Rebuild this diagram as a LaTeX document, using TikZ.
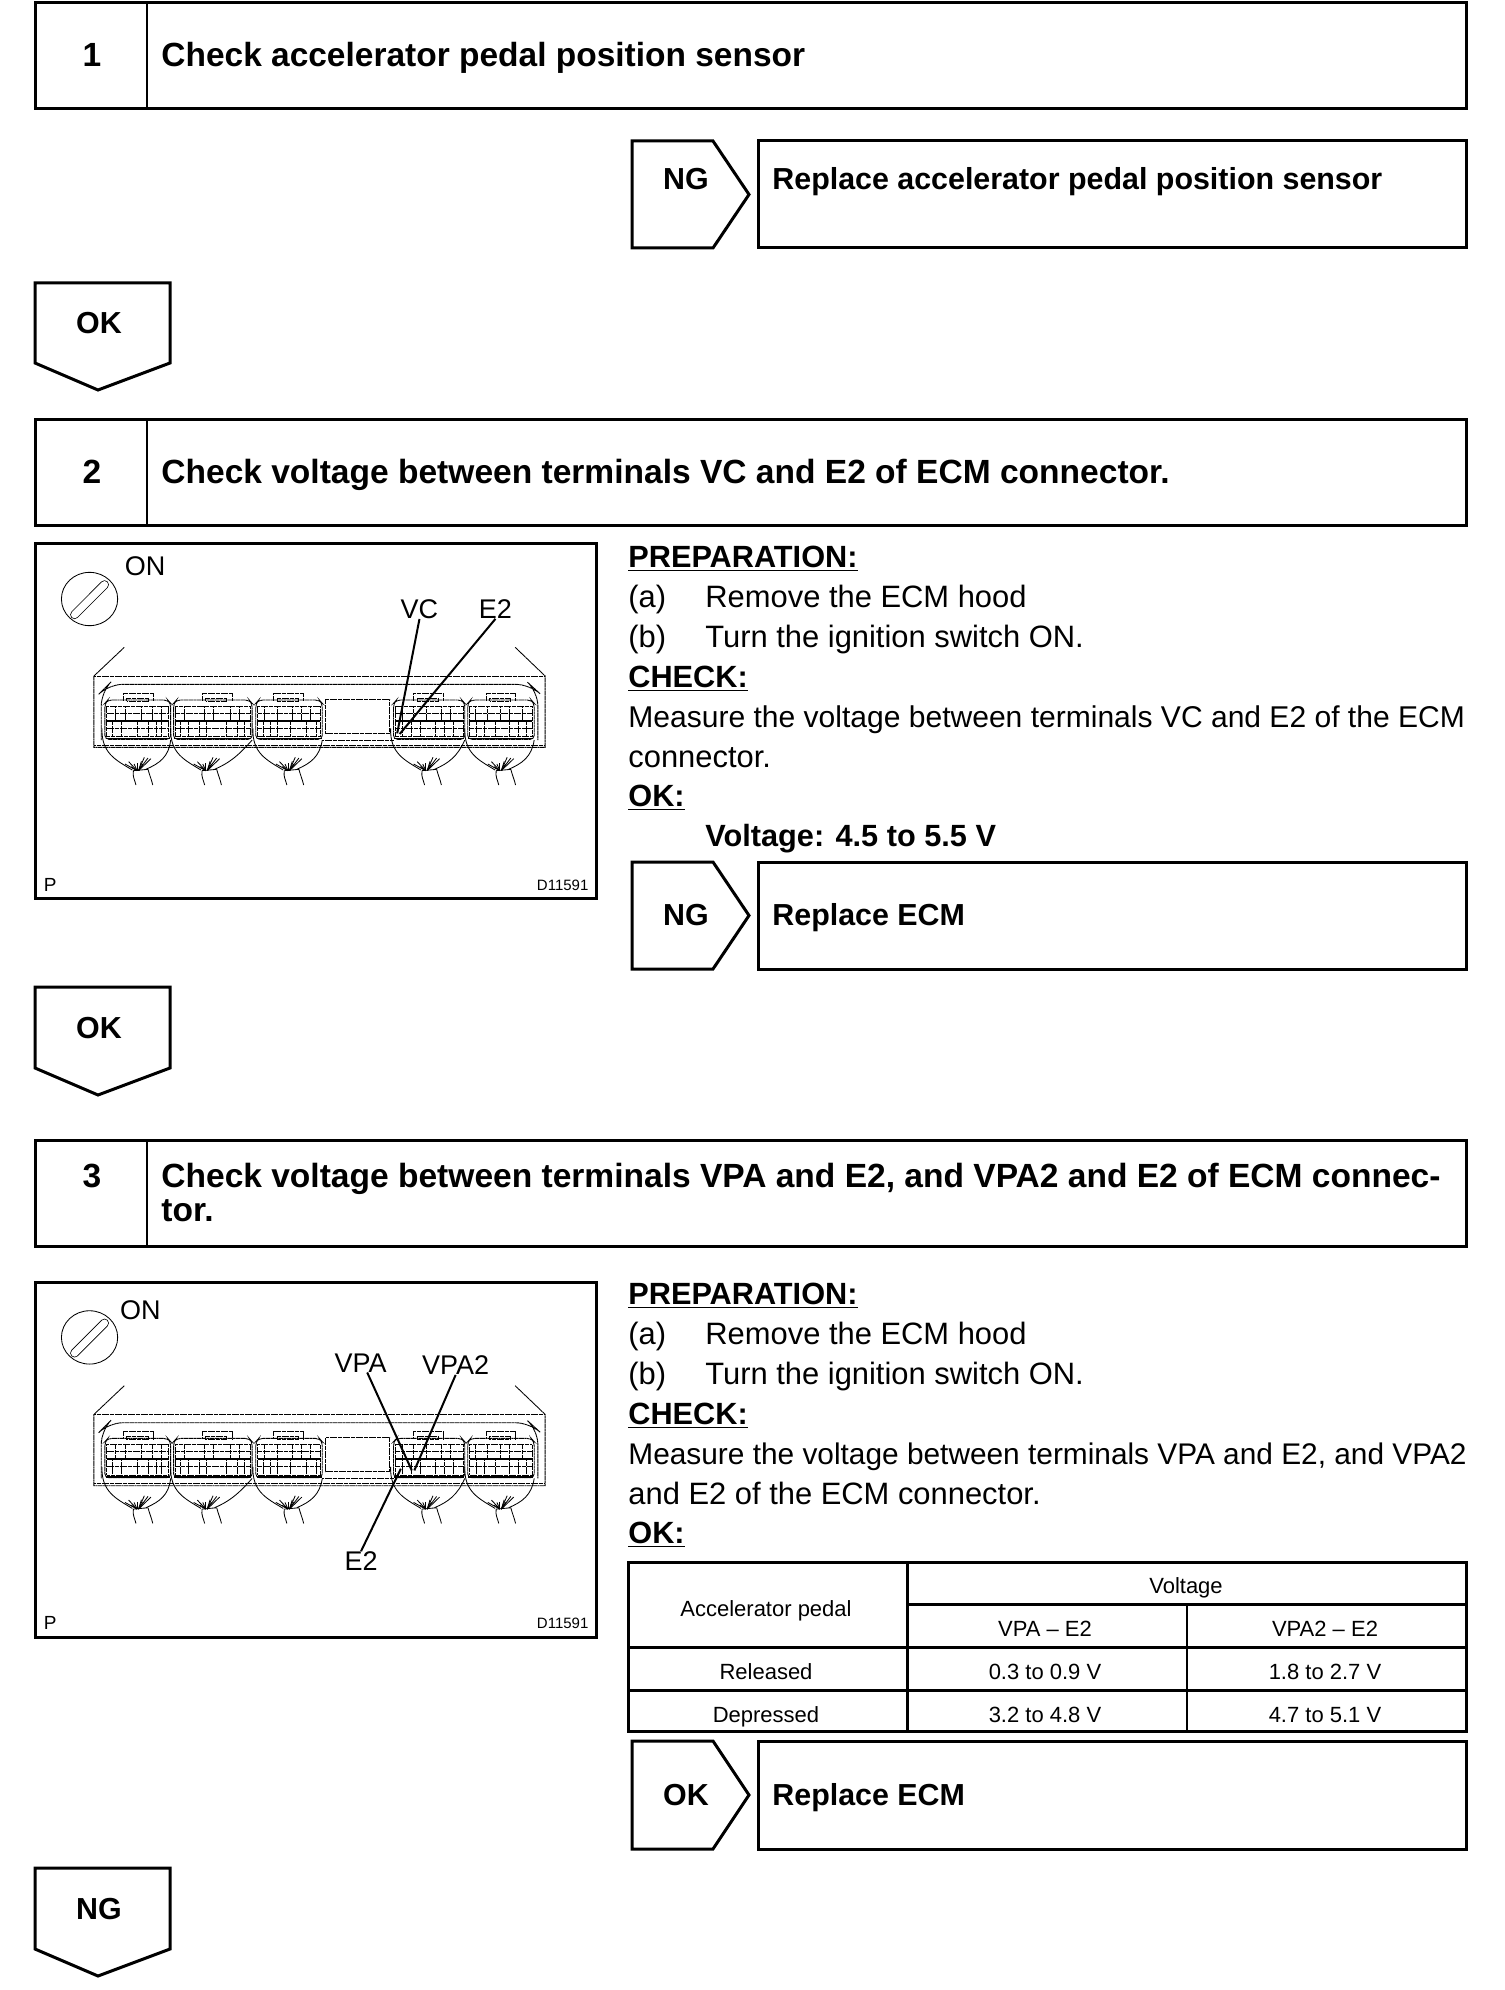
\documentclass[tikz,border=0pt]{standalone}
\usepackage{fontspec}
\setmainfont{Liberation Sans}
\usetikzlibrary{calc}
\newcommand{\headfont}{\fontsize{16.77}{17}\selectfont\bfseries}
\newcommand{\flagfont}{\fontsize{15.2}{16}\selectfont\bfseries}
\newcommand{\bodyfont}{\fontsize{15.45}{16}\selectfont}
\newcommand{\bodybold}{\fontsize{15.35}{16}\selectfont\bfseries}
\newcommand{\tabfont}{\fontsize{11}{12}\selectfont}
\newcommand{\figfont}{\fontsize{13.5}{14}\selectfont}
% one ECM connector in zoom units: x0, width, tab offset, upper verticals, lower verticals
\newcommand{\ecmconn}[5]{%
  \begin{scope}[shift={(#1,0)}]
    \draw[fine,rounded corners=2] (0,598) -- (0,490) -- (8,480) -- (#2-8,480) -- (#2,490) -- (#2,598) -- cycle;
    \draw[fine] (5,590) rectangle (#2-5,498);
    \draw[fine] (#3,482) -- (#3,460) -- (#3+82,460) -- (#3+82,482);
    \draw[fine] (#3+10,484) rectangle (#3+68,475);
    \draw[line width=1pt] (5,542) -- (#2-5,542);
    \draw[fine] (5,520) -- (#2-5,520);
    \draw[fine] (5,565) -- (#2-5,565);
    \draw[line width=.65pt] (2,596) -- (#2-2,596);
    \foreach \v in {#4} {\draw[fine] (\v,498) -- (\v,542);}
    \foreach \v in {#5} {\draw[fine] (\v,542) -- (\v,590);}
    % harness
    \draw[wire] (-8,565) .. controls (-10,640) and (30,660) .. (75,690);
    \draw[wire] (112,688) .. controls (150,670) and (175,650) .. (#2,600);
    \draw[wire] (78,692) .. controls (75,710) and (82,720) .. (85,735);
    \draw[wire] (118,688) .. controls (122,705) and (128,720) .. (131,735);
    \foreach \a/\b in {55/672,65/665,72/680,80/672,88/670} {\draw[wire] (\a,\b) -- (88,692);}
    \foreach \a/\b in {108/652,118/654,126/656,100/664,104/672} {\draw[wire] (\a,\b) -- (92,692);}
    \draw[wire] (78,692) -- (118,688);
  \end{scope}}
% the whole ECM drawing, key included
\newcommand{\ecmart}{%
  \draw[fine] (258,322) -- (175,408) -- (175,622) -- (1410,622) -- (1410,408) -- (1328,322);
  \draw[fine] (175,408) -- (1410,408);
  \draw[fine] (175,615) -- (1410,615);
  \draw[fine,rounded corners=7] (195,600) -- (195,455) -- (215,433) -- (1368,433) -- (1390,455) -- (1390,600);
  \draw[fine] (810,478) rectangle (985,580);
  \draw[fine] (800,600) -- (995,600);
  \ecmconn{205}{180}{50}{28,55,100,130,155}{22,45,90,120,140,155}
  \ecmconn{393}{215}{78}{30,85,110,155,180}{20,40,70,90,145,175,195}
  \ecmconn{618}{182}{48}{25,58,100,125,150}{20,40,60,95,140,165}
  \ecmconn{995}{195}{55}{25,55,90,130,155}{25,50,75,115,140,165}
  \ecmconn{1198}{182}{50}{22,55,90,115,150}{25,45,75,115,140,160}
  \draw[wire] (163,177) ellipse [x radius=77, y radius=80];
  \draw[line width=4.4pt,line cap=round] (122,224) -- (204,134);
  \draw[line width=3.6pt,line cap=round,white] (122,224) -- (204,134);
}
\tikzset{
  fine/.style={line width=.45pt,dash pattern=on 1.1pt off .2pt},
  wire/.style={line width=.42pt},
  frameline/.style={line width=1.5pt,line join=miter},
  divline/.style={line width=1.1pt},
  leader/.style={line width=1pt},
  head/.style={anchor=base west,inner sep=0pt,font=\headfont},
  rephead/.style={anchor=base west,inner sep=0pt,font=\flagfont},
  num/.style={anchor=base,inner sep=0pt,font=\flagfont},
  body/.style={anchor=base west,inner sep=0pt,font=\bodyfont},
  bodylong/.style={anchor=base west,inner sep=0pt,font=\fontsize{15.02}{16}\selectfont},
  bodylonger/.style={anchor=base west,inner sep=0pt,font=\fontsize{14.92}{16}\selectfont},
  bodyb/.style={anchor=base west,inner sep=0pt,font=\bodybold},
  ul/.style={anchor=base west,inner sep=0pt,font=\bodybold},
  tabcell/.style={anchor=base,inner sep=0pt,font=\tabfont},
  figlabel/.style={inner sep=0pt,font=\figfont},
  zoomed/.style={x=0.18268pt,y=-0.16667pt},
}
\newcommand{\stepframe}[2]{% top bottom
  \draw[frameline] (35,#1) rectangle (1466,#2);
  \draw[divline] (147,#1) -- (147,#2);}
\newcommand{\rightflag}[2]{% top bottom
  \draw[frameline] (632,#1) -- (713,#1) -- (749,{(#1+#2)/2}) -- (713,#2) -- (632,#2) -- cycle;
  \draw[frameline] (758,#1) rectangle (1466,#2);}
\newcommand{\downflag}[2]{% top bottom
  \draw[frameline] (35,#1) -- (170,#1) -- (170,{#2-27}) -- (98,#2) -- (35,{#2-27}) -- cycle;}
\newcommand{\ulined}[1]{\underline{#1}}
\begin{document}
\begin{tikzpicture}[x=0.5pt,y=-0.5pt]
\useasboundingbox (0,0) rectangle (1504,1990);
% step 1
\stepframe{3}{109}
\node[num,font=\headfont] (n1) at (92,67) {1};
\node[head,font=\fontsize{16.74}{17}\selectfont\bfseries] (t1) at (161,67) {Check accelerator pedal position sensor};
\rightflag{141}{248}
\node[num] (ng1) at (686,190) {NG};
\node[rephead] (r1) at (772,190) {Replace accelerator pedal position sensor};
\downflag{283}{390}
\node[num] (ok1) at (99,334) {OK};
% step 2
\stepframe{419}{525}
\node[num,font=\headfont] (n2) at (92,483) {2};
\node[head] (t2) at (161,483) {Check voltage between terminals VC and E2 of ECM connector.};
% figure 1
\draw[frameline] (35,543) rectangle (596,898);
\begin{scope}[shift={(30,540)},zoomed]
  \ecmart
  \node[figlabel] (on1) at (315,78) {ON};
  \node[figlabel] (vc) at (1066,207) {VC};
  \node[figlabel] (e2a) at (1274,207) {E2};
  \coordinate (vcend) at (1005,580);
  \coordinate (e2aend) at (1012,582);
  \draw[leader] (vc.south) -- (vcend);
  \draw[leader] (e2a.south) -- (e2aend);
  \node[inner sep=0pt,font=\fontsize{9.5}{10}\selectfont] (p1) at (55,1035) {P};
  \node[inner sep=0pt,font=\fontsize{7.5}{8}\selectfont] (d1) at (1458,1035) {D11591};
\end{scope}
% text 2
\node[ul] (p2a) at (628,567) {\ulined{PREPARATION:}};
\node[body] (p2b) at (628,607) {(a)};
\node[body] (p2c) at (705,607) {Remove the ECM hood};
\node[body] (p2d) at (628,647) {(b)};
\node[body] (p2e) at (705,647) {Turn the ignition switch ON.};
\node[ul] (p2f) at (628,687) {\ulined{CHECK:}};
\node[bodylong] (p2g) at (628,727) {Measure the voltage between terminals VC and E2 of the ECM};
\node[body] (p2h) at (628,767) {connector.};
\node[ul] (p2i) at (628,806) {\ulined{OK:}};
\node[bodyb] (p2j) at (705,846) {Voltage: 4.5 to 5.5 V};
\rightflag{862}{969}
\node[num] (ng2) at (686,925) {NG};
\node[rephead] (r2) at (772,925) {Replace ECM};
\downflag{987}{1095}
\node[num] (ok2) at (99,1038) {OK};
% step 3
\stepframe{1140}{1246}
\node[num,font=\headfont] (n3) at (92,1187) {3};
\node[head] (t3a) at (161,1187) {Check voltage between terminals VPA and E2, and VPA2 and E2 of ECM connec-};
\node[head] (t3b) at (161,1221) {tor.};
% figure 2
\draw[frameline] (35,1282) rectangle (596,1637);
\begin{scope}[shift={(30,1278.4)},zoomed]
  \ecmart
  \node[figlabel] (on2) at (302,94) {ON};
  \node[figlabel] (vpa) at (905,253) {VPA};
  \node[figlabel] (vpatwo) at (1165,260) {VPA2};
  \node[figlabel] (e2b) at (906,848) {E2};
  \coordinate (vpaend) at (1045,576);
  \coordinate (vpatwoend) at (1052,576);
  \coordinate (e2bend) at (1015,571);
  \draw[leader] (vpa.304) -- (vpaend);
  \draw[leader] (vpatwo.south) -- (vpatwoend);
  \draw[leader] (e2b.north) -- (e2bend);
  \node[inner sep=0pt,font=\fontsize{9.5}{10}\selectfont] (p2) at (55,1035) {P};
  \node[inner sep=0pt,font=\fontsize{7.5}{8}\selectfont] (d2) at (1458,1035) {D11591};
\end{scope}
% text 3
\node[ul] (q2a) at (628,1304) {\ulined{PREPARATION:}};
\node[body] (q2b) at (628,1344) {(a)};
\node[body] (q2c) at (705,1344) {Remove the ECM hood};
\node[body] (q2d) at (628,1384) {(b)};
\node[body] (q2e) at (705,1384) {Turn the ignition switch ON.};
\node[ul] (q2f) at (628,1424) {\ulined{CHECK:}};
\node[bodylonger] (q2g) at (628,1464) {Measure the voltage between terminals VPA and E2, and VPA2};
\node[body] (q2h) at (628,1504) {and E2 of the ECM connector.};
\node[ul] (q2i) at (628,1543) {\ulined{OK:}};
% table
\draw[frameline] (628,1562) rectangle (1466,1731);
\draw[divline] (907.5,1562) -- (907.5,1731);
\draw[divline] (1187,1604) -- (1187,1731);
\draw[frameline] (907.5,1604) -- (1466,1604);
\draw[frameline] (628,1647) -- (1466,1647);
\draw[frameline] (628,1690) -- (1466,1690);
\node[tabcell] (c1) at (766,1616) {Accelerator pedal};
\node[tabcell] (c2) at (1186,1593) {Voltage};
\node[tabcell] (c3) at (1045,1636) {VPA – E2};
\node[tabcell] (c4) at (1325,1636) {VPA2 – E2};
\node[tabcell] (c5) at (766,1679) {Released};
\node[tabcell] (c6) at (1045,1679) {0.3 to 0.9 V};
\node[tabcell] (c7) at (1325,1679) {1.8 to 2.7 V};
\node[tabcell] (c8) at (766,1722) {Depressed};
\node[tabcell] (c9) at (1045,1722) {3.2 to 4.8 V};
\node[tabcell] (c10) at (1325,1722) {4.7 to 5.1 V};
\rightflag{1741}{1849}
\node[num] (ok3) at (686,1805) {OK};
\node[rephead] (r3) at (772,1805) {Replace ECM};
\downflag{1868}{1976}
\node[num] (ng3) at (99,1919) {NG};
\end{tikzpicture}
\end{document}
